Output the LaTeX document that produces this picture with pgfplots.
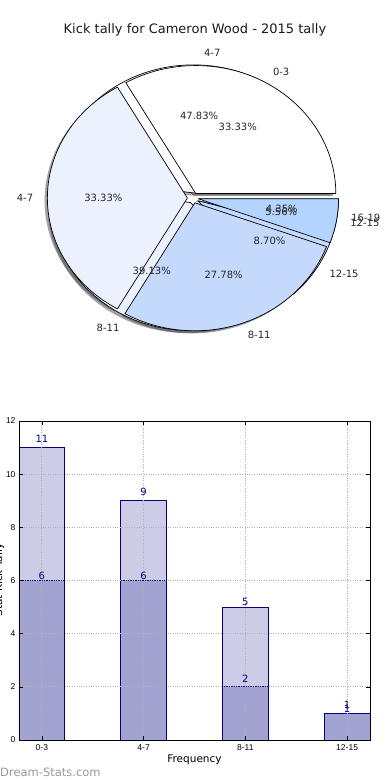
\documentclass[border=0pt]{standalone}
\usepackage{pgfplots}
\pgfplotsset{compat=1.18}
\usepackage{fontspec}
\setmainfont{DejaVu Sans}
\newfontfamily\tickfont{Liberation Sans}
\definecolor{pw}{HTML}{FFFFFF}
\definecolor{pa}{HTML}{EBF2FE}
\definecolor{pb}{HTML}{C5D9FC}
\definecolor{pc}{HTML}{B3D4FE}
\definecolor{navyc}{HTML}{000080}
\def\pexpl{0.04}
\def\prx{140pt}
\def\pry{128pt}
% #1 list count/colour/label, #2 total, #3 phase (0 shadow, 1 wedge, 2 text)
\newcommand\piephase[3]{%
  \gdef\pacc{0}%
  \foreach \pv/\pcol/\plab in {#1}{%
    \pgfmathsetmacro\sa{\pacc/#2*360}%
    \pgfmathsetmacro\ea{(\pacc+\pv)/#2*360}%
    \pgfmathsetmacro\ma{(\sa+\ea)/2}%
    \pgfmathsetmacro\pdx{\pexpl*cos(\ma)}%
    \pgfmathsetmacro\pdy{\pexpl*sin(\ma)}%
    \ifcase#3\relax
      \pgfmathsetmacro\sdx{\pdx-0.02}\pgfmathsetmacro\sdy{\pdy-0.02}%
      \pgfmathsetmacro\ppx{\sdx+cos(\sa)}\pgfmathsetmacro\ppy{\sdy+sin(\sa)}%
      \fill[fill={\pcol!30!black}, fill opacity=0.5] (axis cs:\sdx,\sdy) -- (axis cs:\ppx,\ppy) arc[start angle=\sa, end angle=\ea, x radius=\prx, y radius=\pry] -- cycle;
    \or
      \pgfmathsetmacro\ppx{\pdx+cos(\sa)}\pgfmathsetmacro\ppy{\pdy+sin(\sa)}%
      \filldraw[fill=\pcol, draw=black, line width=0.7pt, line join=round] (axis cs:\pdx,\pdy) -- (axis cs:\ppx,\ppy) arc[start angle=\sa, end angle=\ea, x radius=\prx, y radius=\pry] -- cycle;
    \or
      \pgfmathsetmacro\tx{\pdx+1.1*cos(\ma)}\pgfmathsetmacro\ty{\pdy+1.1*sin(\ma)}%
      \pgfmathsetmacro\qx{\pdx+0.6*cos(\ma)}\pgfmathsetmacro\qy{\pdy+0.6*sin(\ma)}%
      \pgfmathsetmacro\pct{\pv*100/#2}%
      \ifdim\tx pt>0pt \def\anc{west}\else\def\anc{east}\fi
      \node[anchor=\anc, inner sep=0pt, text=black!85, font=\fontsize{10}{12}\selectfont] at (axis cs:\tx,\ty) {\plab};
      \node[inner sep=0pt, text=black!85, font=\fontsize{10}{12}\selectfont] at (axis cs:\qx,\qy) {\pgfmathprintnumber[fixed, fixed zerofill, precision=2, assume math mode=true]{\pct}\%};
    \fi
    \pgfmathsetmacro\nacc{\pacc+\pv}%
    \global\let\pacc\nacc
  }%
}
\def\pieA{11/pw/4-7, 9/pa/8-11, 2/pb/12-15, 1/pc/16-19}
\def\pieB{6/pw/0-3, 6/pa/4-7, 5/pb/8-11, 1/pc/12-15}
\begin{document}
\begin{tikzpicture}
\path (0,0) rectangle (390pt,780pt);
\node[anchor=base, font=\fontsize{13}{15}\selectfont, text=black!90] at (195pt,746pt) {Kick tally for Cameron Wood - 2015 tally};
% pie
\begin{axis}[at={(193pt,582pt)}, anchor=center, scale only axis, width=280pt, height=256pt,
  xmin=-1, xmax=1, ymin=-1, ymax=1, hide axis, clip=false]
\pgfplotsextra{%
  \expandafter\piephase\expandafter{\pieA}{23}{0}%
  \expandafter\piephase\expandafter{\pieB}{18}{0}%
  \expandafter\piephase\expandafter{\pieA}{23}{1}%
  \expandafter\piephase\expandafter{\pieB}{18}{1}%
  \expandafter\piephase\expandafter{\pieA}{23}{2}%
  \expandafter\piephase\expandafter{\pieB}{18}{2}%
}
\end{axis}
% bars
\begin{axis}[at={(19pt,40pt)}, anchor=south west, scale only axis, width=351pt, height=319pt,
  xmin=-0.225, xmax=3.225, ymin=0, ymax=12,
  xtick={0,1,2,3}, xticklabels={0-3,4-7,8-11,12-15}, ytick={0,2,4,6,8,10,12},
  grid=major, major grid style={dotted, line width=0.9pt, color=black!30},
  axis on top, tick align=inside, major tick length=4pt,
  tick style={black, line width=0.5pt},
  axis line style={line width=0.8pt},
  ticklabel style={font=\tickfont\fontsize{8.5}{9}\selectfont},
  /pgf/number format/assume math mode=true,
  xticklabel style={yshift=-1.5pt},
  xlabel={Frequency},
  xlabel style={font=\fontsize{10.5}{12}\selectfont, at={(axis description cs:0.5,0)}, anchor=north, yshift=-11.5pt},
]
\addplot[ybar, bar width=0.45, bar shift=0pt, fill=navyc, fill opacity=0.2, draw=navyc, line width=0.8pt]
  coordinates {(0,11) (1,9) (2,5) (3,1)};
\addplot[ybar, bar width=0.45, bar shift=0pt, fill=navyc, fill opacity=0.2, draw=navyc, line width=0.8pt]
  coordinates {(0,6) (1,6) (2,2) (3,1)};
\addplot[draw=none, mark=none, nodes near coords, point meta=explicit symbolic,
  every node near coord/.append style={anchor=center, text=navyc, inner sep=0pt, font=\fontsize{10}{12}\selectfont}]
  table[meta=l] {
x y l
0 11.33 11
1 9.34 9
2 5.18 5
3 1.32 1
0 6.17 6
1 6.17 6
2 2.31 2
3 1.16 1
};
\end{axis}
\node[rotate=90, anchor=base, font=\fontsize{10.5}{12}\selectfont] at (2pt,200pt) {Stat Kick Tally};
\node[anchor=base west, inner sep=0pt, text=black!40, font=\fontsize{11.5}{13}\selectfont] at (0pt,4pt) {Dream-Stats.com};
\pgfresetboundingbox
\path[use as bounding box] (0,0) rectangle (390pt,780pt);
\end{tikzpicture}
\end{document}
